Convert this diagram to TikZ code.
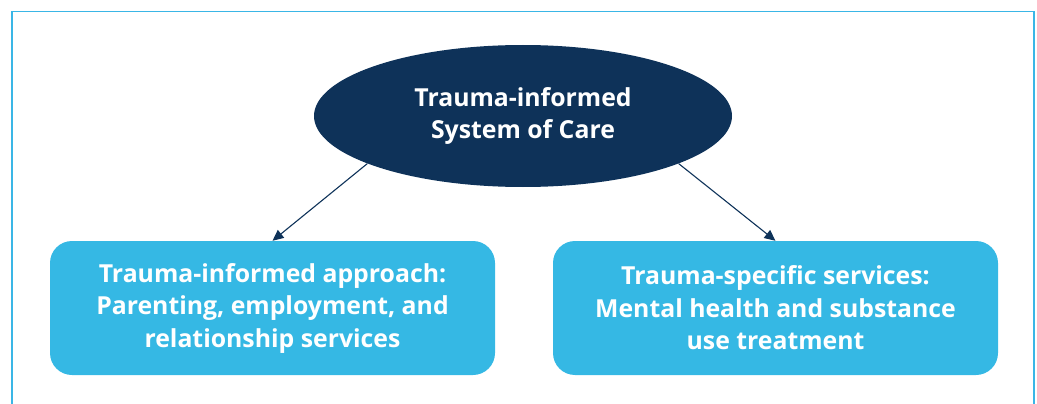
\documentclass[tikz,border=0pt]{standalone}
\usepackage{fontspec}
\newfontfamily\boxfont{Open Sans}
\usetikzlibrary{shapes.geometric,arrows.meta}
\definecolor{navy}{HTML}{0E3259}
\definecolor{sky}{HTML}{35B8E4}
\definecolor{framec}{HTML}{3AB6E6}
\tikzset{
  txt/.style={text=white,font=\boxfont\bfseries\fontsize{24.8}{32.5}\selectfont,align=center},
  topell/.style={ellipse,fill=navy,minimum width=418pt,minimum height=142pt,inner sep=0pt,txt},
  svcbox/.style={rectangle,rounded corners=22pt,fill=sky,minimum width=445pt,minimum height=134pt,inner sep=0pt,txt},
  link/.style={draw=navy,line width=1.1pt,-{Triangle[length=11pt,width=10pt]}}
}
\begin{document}
\begin{tikzpicture}[x=1pt,y=-1pt]
\useasboundingbox (0,0) rectangle (1037,404);
\draw[framec,line width=1.6pt] (12,410) -- (12,11.5) -- (1034,11.5) -- (1034,410);
\node[topell] (sys) at (523,116) {Trauma-informed\\System of Care};
\node[svcbox] (tia) at (272.5,308) {Trauma-informed approach:\\Parenting, employment, and\\relationship services};
\node[svcbox] (tss) at (775.5,308) {Trauma-specific services:\\Mental health and substance\\use treatment};
\draw[link] (sys.197.8) -- (tia.north);
\draw[link] (sys.-17.8) -- (tss.north);
\end{tikzpicture}
\end{document}
